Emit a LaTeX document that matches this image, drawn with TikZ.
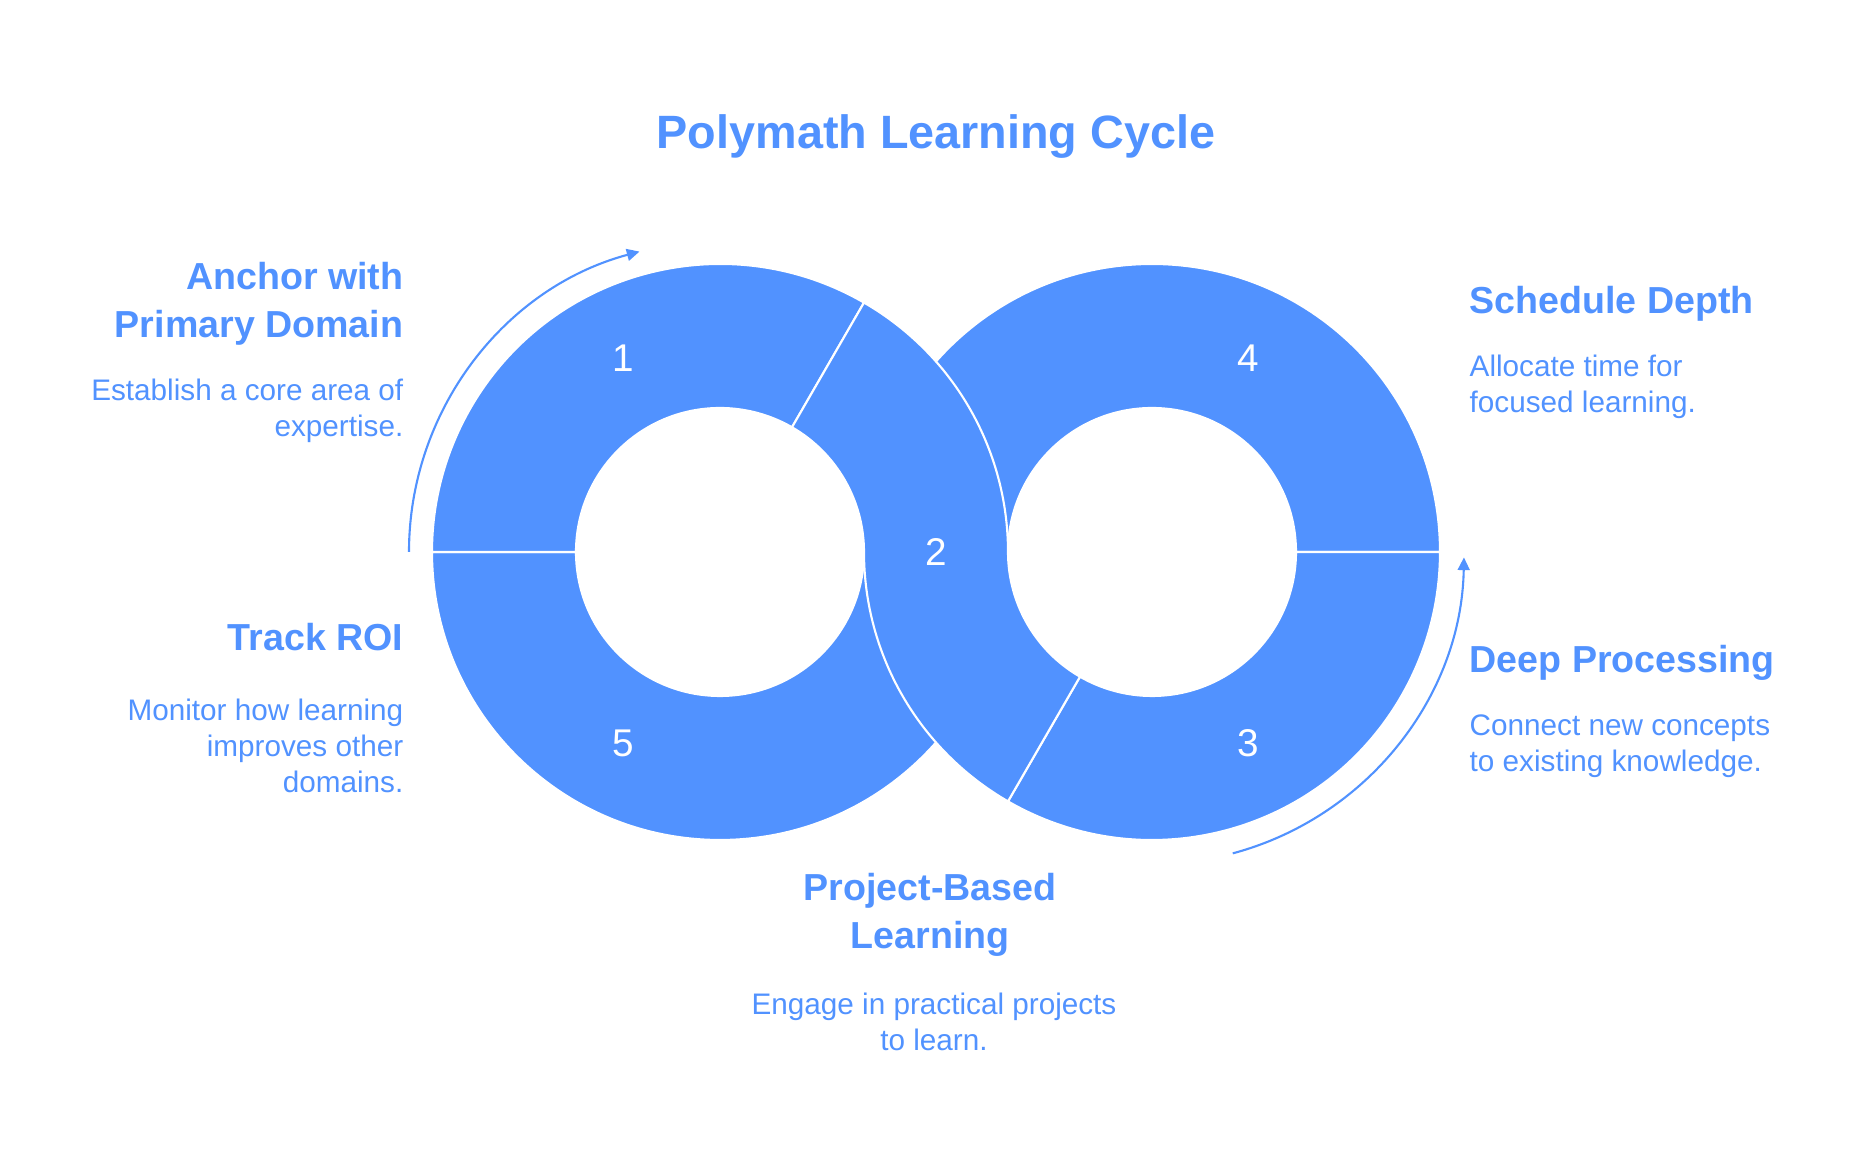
\documentclass[tikz,border=0pt]{standalone}
\usepackage{fontspec}
\setmainfont{Liberation Sans}
\usetikzlibrary{arrows.meta,calc}
\definecolor{polyblue}{HTML}{5192FF}
\begin{document}
\begin{tikzpicture}[
  seg/.style={fill=polyblue,draw=white,line width=0.6pt},
  num/.style={text=white,font=\fontsize{11}{13}\selectfont},
  head/.style={text=polyblue,font=\bfseries\fontsize{10.7}{13.7}\selectfont,inner sep=0pt},
  body/.style={text=polyblue,font=\fontsize{8.45}{10.24}\selectfont,inner sep=0pt},
  cyc/.style={draw=polyblue,line width=0.6pt,-{Triangle[length=3.6pt,width=3.4pt]}}
]
\useasboundingbox (0,0) rectangle (18.72,11.52);
\coordinate (lc) at (7.2,6);
\coordinate (rc) at (11.52,6);

% ring pieces, the middle one last
\path[seg] (14.40,6) arc[start angle=0,end angle=180,radius=2.88]
  -- (10.08,6) arc[start angle=180,end angle=0,radius=1.44] -- cycle;
\path[seg] (4.32,6) arc[start angle=180,end angle=360,radius=2.88]
  -- (8.64,6) arc[start angle=360,end angle=180,radius=1.44] -- cycle;
\path[seg] (8.64,8.494) arc[start angle=60,end angle=180,radius=2.88]
  -- (5.76,6) arc[start angle=180,end angle=60,radius=1.44] -- cycle;
\path[seg] (10.08,3.506) arc[start angle=240,end angle=360,radius=2.88]
  -- (12.96,6) arc[start angle=360,end angle=240,radius=1.44] -- cycle;
\path[seg] (8.64,8.494) arc[start angle=60,end angle=0,radius=2.88]
  arc[start angle=180,end angle=240,radius=1.44]
  -- (10.08,3.506) arc[start angle=240,end angle=180,radius=2.88]
  arc[start angle=0,end angle=60,radius=1.44] -- cycle;

\node[num] (n1) at (6.23,7.94) {1};
\node[num] (n2) at (9.36,6.00) {2};
\node[num] (n3) at (12.48,4.09) {3};
\node[num] (n4) at (12.48,7.94) {4};
\node[num] (n5) at (6.23,4.09) {5};

% direction arrows
\draw[cyc] ($(lc)+(180:3.11)$) arc[start angle=180,end angle=105,radius=3.11];
\draw[cyc] ($(rc)+(-75:3.12)$) arc[start angle=-75,end angle=-1,radius=3.12];

\node[text=polyblue,font=\bfseries\fontsize{13.3}{16}\selectfont] (title) at (9.36,10.15) {Polymath Learning Cycle};

\node[head,align=right,anchor=east] (anchorhd) at (4.04,8.485) {Anchor with\\Primary Domain};
\node[body,align=right,anchor=east] (anchortx) at (4.04,7.415) {Establish a core area of\\expertise.};
\node[head,align=right,anchor=east] (trackhd) at (4.04,5.15) {Track ROI};
\node[body,align=right,anchor=east] (tracktx) at (4.04,4.06) {Monitor how learning\\improves other\\domains.};
\node[head,align=left,anchor=west] (schedhd) at (14.69,8.485) {Schedule Depth};
\node[body,align=left,anchor=west] (schedtx) at (14.69,7.65) {Allocate time for\\focused learning.};
\node[head,align=left,anchor=west] (deephd) at (14.69,4.895) {Deep Processing};
\node[body,align=left,anchor=west] (deeptx) at (14.69,4.055) {Connect new concepts\\to existing knowledge.};
\node[head,align=center] (projhd) at (9.30,2.375) {Project-Based\\Learning};
\node[body,align=center] (projtx) at (9.34,1.30) {Engage in practical projects\\to learn.};
\end{tikzpicture}
\end{document}
